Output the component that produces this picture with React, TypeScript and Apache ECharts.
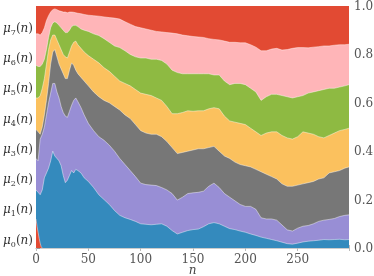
import React, { useEffect, useRef } from "react";
import * as echarts from "echarts";

// sample positions n (shared by μ1..μ7 boundaries)
const nValues = [
  0, 2, 4, 6, 8, 10, 12, 14, 16, 18, 20, 22, 24, 26, 28, 30, 32, 34, 36, 38, 40,
  43, 46,
  50, 55, 60, 65, 70, 75, 80, 85, 90, 95,
  100, 105, 110, 115, 120, 125, 130, 135, 140, 145,
  150, 155, 160, 165, 170, 175, 180, 185, 190, 195,
  200, 205, 210, 215, 220, 225, 230, 235, 240, 245,
  250, 255, 260, 265, 270, 275, 280, 285, 290, 295,
  299,
];

// cumulative share μ0+...+μk
const nMu0 = [0, 1, 2, 3, 4, 5, 6];
const cumMu0 = [0.12, 0.09, 0.065, 0.04, 0.02, 0.005, 0];

const cumMu1 = [
  0.24, 0.23, 0.22, 0.24, 0.29, 0.31, 0.33, 0.36, 0.40, 0.38, 0.37, 0.36, 0.34, 0.30, 0.27, 0.28, 0.30, 0.32, 0.31, 0.325, 0.32,
  0.31, 0.29,
  0.275, 0.25, 0.22, 0.20, 0.18, 0.155, 0.135, 0.125, 0.118, 0.11,
  0.10, 0.098, 0.096, 0.098, 0.10, 0.09, 0.072, 0.058, 0.065, 0.072,
  0.076, 0.078, 0.088, 0.10, 0.105, 0.10, 0.09, 0.08, 0.076, 0.07,
  0.065, 0.058, 0.052, 0.045, 0.04, 0.035, 0.03, 0.024, 0.018, 0.016,
  0.02, 0.025, 0.028, 0.03, 0.032, 0.035, 0.034, 0.035, 0.036, 0.034,
  0.035,
];

const cumMu2 = [
  0.37, 0.36, 0.45, 0.47, 0.50, 0.55, 0.60, 0.64, 0.68, 0.68, 0.645, 0.62, 0.585, 0.56, 0.545, 0.54, 0.565, 0.59, 0.61, 0.62, 0.605,
  0.58, 0.55,
  0.515, 0.485, 0.46, 0.445, 0.425, 0.40, 0.37, 0.345, 0.32, 0.295,
  0.268, 0.262, 0.26, 0.258, 0.25, 0.24, 0.225, 0.198, 0.21, 0.225,
  0.228, 0.23, 0.235, 0.255, 0.268, 0.25, 0.225, 0.21, 0.195, 0.18,
  0.172, 0.172, 0.16, 0.125, 0.12, 0.12, 0.115, 0.095, 0.075, 0.07,
  0.082, 0.09, 0.093, 0.10, 0.11, 0.115, 0.118, 0.122, 0.13, 0.135,
  0.137,
];

const cumMu3 = [
  0.49, 0.48, 0.47, 0.50, 0.55, 0.61, 0.68, 0.76, 0.81, 0.82, 0.79, 0.76, 0.74, 0.72, 0.70, 0.70, 0.735, 0.765, 0.755, 0.735, 0.72,
  0.705, 0.69,
  0.67, 0.645, 0.625, 0.61, 0.60, 0.585, 0.57, 0.55, 0.535, 0.51,
  0.485, 0.475, 0.47, 0.47, 0.46, 0.44, 0.415, 0.39, 0.395, 0.40,
  0.405, 0.41, 0.41, 0.415, 0.42, 0.40, 0.38, 0.37, 0.355, 0.345,
  0.34, 0.335, 0.325, 0.315, 0.305, 0.295, 0.285, 0.265, 0.255, 0.255,
  0.26, 0.265, 0.27, 0.275, 0.285, 0.29, 0.31, 0.315, 0.32, 0.33,
  0.335,
];

const cumMu4 = [
  0.62, 0.62, 0.63, 0.66, 0.70, 0.76, 0.82, 0.86, 0.88, 0.88, 0.86, 0.84, 0.82, 0.80, 0.79, 0.785, 0.81, 0.835, 0.85, 0.855, 0.84,
  0.825, 0.81,
  0.795, 0.78, 0.765, 0.745, 0.73, 0.71, 0.69, 0.68, 0.67, 0.655,
  0.64, 0.635, 0.63, 0.62, 0.61, 0.585, 0.555, 0.555, 0.56, 0.567,
  0.565, 0.567, 0.567, 0.575, 0.58, 0.575, 0.545, 0.525, 0.52, 0.515,
  0.51, 0.495, 0.48, 0.465, 0.475, 0.48, 0.48, 0.465, 0.455, 0.45,
  0.46, 0.48, 0.475, 0.47, 0.46, 0.455, 0.465, 0.475, 0.485, 0.49,
  0.495,
];

const cumMu5 = [
  0.755, 0.75, 0.75, 0.76, 0.78, 0.82, 0.87, 0.91, 0.93, 0.935, 0.93, 0.92, 0.91, 0.90, 0.89, 0.89, 0.90, 0.915, 0.92, 0.92, 0.915,
  0.905, 0.90,
  0.895, 0.885, 0.878, 0.865, 0.85, 0.835, 0.828, 0.815, 0.80, 0.79,
  0.785, 0.785, 0.78, 0.78, 0.775, 0.76, 0.735, 0.725, 0.72, 0.72,
  0.72, 0.72, 0.72, 0.72, 0.715, 0.715, 0.69, 0.675, 0.68, 0.68,
  0.675, 0.66, 0.645, 0.61, 0.625, 0.635, 0.635, 0.63, 0.625, 0.62,
  0.625, 0.63, 0.64, 0.645, 0.65, 0.655, 0.66, 0.66, 0.665, 0.67,
  0.675,
];

const cumMu6 = [
  0.885, 0.885, 0.88, 0.89, 0.91, 0.94, 0.96, 0.975, 0.985, 0.988, 0.985, 0.98, 0.978, 0.975, 0.975, 0.972, 0.975, 0.975, 0.974, 0.972, 0.97,
  0.968, 0.965,
  0.962, 0.96, 0.958, 0.955, 0.952, 0.95, 0.946, 0.935, 0.925, 0.915,
  0.91, 0.905, 0.90, 0.895, 0.893, 0.89, 0.888, 0.885, 0.88, 0.877,
  0.874, 0.872, 0.87, 0.865, 0.862, 0.86, 0.855, 0.85, 0.85, 0.848,
  0.848, 0.84, 0.83, 0.815, 0.815, 0.822, 0.825, 0.818, 0.82, 0.825,
  0.828, 0.828, 0.827, 0.83, 0.832, 0.835, 0.835, 0.838, 0.84, 0.84,
  0.842,
];

// all shares together sum to 1
const cumMu7 = nValues.map(() => 1);

const xTicks = [0, 50, 100, 150, 200, 250];
const yTicks = [0, 0.2, 0.4, 0.6, 0.8, 1.0];
const seriesNames = ["μ0", "μ1", "μ2", "μ3", "μ4", "μ5", "μ6", "μ7"];
const colors = ["#E24A33", "#348ABD", "#988ED5", "#777777", "#FBC15E", "#8EBA42", "#FFB5B8", "#E24A33"];

const SERIF = "DejaVu Serif";

export default function App() {
  const ref = useRef<HTMLDivElement>(null);
  useEffect(() => {
    const chart = echarts.init(ref.current!, null, { renderer: "svg" });
    const bounds = [cumMu0, cumMu1, cumMu2, cumMu3, cumMu4, cumMu5, cumMu6, cumMu7];
    const series: any[] = [];
    for (let k = 7; k >= 0; k--) {
      const xs = k === 0 ? nMu0 : nValues;
      series.push({
        type: "line",
        name: seriesNames[k],
        data: xs.map((n, i) => [n, bounds[k][i]]),
        symbol: "none",
        showSymbol: false,
        silent: true,
        xAxisIndex: 0,
        yAxisIndex: 0,
        z: 2 + (7 - k),
        lineStyle: { width: k === 7 ? 0 : 0.8, color: "rgba(255,255,255,0.55)" },
        areaStyle: { color: colors[k], opacity: 1 },
      });
    }
    chart.setOption({
      animation: false,
      grid: { left: 36, right: 25, top: 6, bottom: 28, outerBoundsMode: "none", containLabel: false },
      xAxis: [
        {
          type: "value",
          min: 0,
          max: 299,
          interval: 50,
          position: "bottom",
          name: "n",
          nameLocation: "middle",
          nameGap: 17,
          nameMoveOverlap: false,
          nameTextStyle: { fontFamily: SERIF, fontStyle: "italic", fontSize: 12, color: "#444", lineHeight: 10 },
          axisLine: { show: true, lineStyle: { color: "#cccccc", width: 1 } },
          axisTick: { show: true, length: 3, lineStyle: { color: "#bbbbbb" } },
          axisLabel: {
            margin: 5,
            fontFamily: SERIF,
            fontSize: 12,
            lineHeight: 12,
            color: "#555",
            formatter: (v: number) => (xTicks.includes(v) ? String(v) : ""),
          },
          splitLine: { show: false },
        },
        {
          type: "value",
          min: 0,
          max: 299,
          interval: 50,
          position: "top",
          axisLine: { show: true, lineStyle: { color: "#cccccc", width: 1 } },
          axisTick: { show: true, length: 3, lineStyle: { color: "#bbbbbb" } },
          axisLabel: { show: false },
          splitLine: { show: false },
        },
      ],
      yAxis: [
        {
          type: "value",
          min: 0,
          max: 1,
          interval: 0.2,
          position: "right",
          axisLine: { show: false },
          axisTick: { show: true, length: 4, lineStyle: { color: "#999" } },
          axisLabel: {
            margin: 5,
            fontFamily: SERIF,
            fontSize: 12,
            lineHeight: 12,
            color: "#555",
            formatter: (v: number) => {
              const t = yTicks.find((y) => Math.abs(y - v) < 1e-6);
              return t === undefined ? "" : t.toFixed(1);
            },
          },
          splitLine: { show: false },
        },
        {
          type: "value",
          min: 0,
          max: 1,
          interval: 0.125,
          position: "left",
          axisLine: { show: false },
          axisTick: { show: false },
          splitLine: { show: false },
          axisLabel: {
            margin: 3,
            verticalAlign: "bottom",
            formatter: (v: number) => {
              const k = Math.round(v * 8);
              if (k > 7) return "";
              return `{m|μ}{s|${k}}{p|(}{m|n}{p|)}`;
            },
            rich: {
              m: { fontFamily: SERIF, fontStyle: "italic", fontSize: 12, color: "#333", lineHeight: 17 },
              p: { fontFamily: SERIF, fontSize: 12, color: "#333", lineHeight: 17 },
              s: { fontFamily: SERIF, fontSize: 8, color: "#333", lineHeight: 9, verticalAlign: "bottom" },
            },
          },
        },
      ],
      series,
    });
    return () => chart.dispose();
  }, []);
  return <div ref={ref} style={{ position: "fixed", left: 0, top: 0, width: 374, height: 276 }} />;
}
